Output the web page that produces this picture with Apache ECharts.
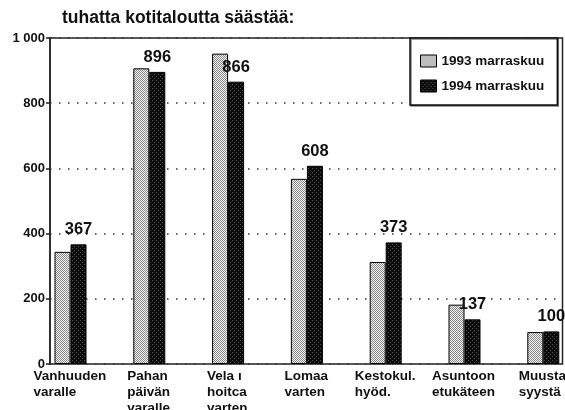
<!DOCTYPE html>
<html><head><meta charset="utf-8">
<script src="https://cdn.jsdelivr.net/npm/echarts@6/dist/echarts.min.js"></script>
<style>html,body{margin:0;padding:0;background:#fff}#c{width:565px;height:410px}</style>
</head><body><div id="c"></div>
<script>
const titleText = 'tuhatta kotitaloutta säästää:';
const categories = ['Vanhuuden\nvaralle', 'Pahan\npäivän\nvaralle', 'Vela\u00a0\u0131\nhoitca\nvarten', 'Lomaa\nvarten', 'Kestokul.\nhyöd.', 'Asuntoon\netukäteen', 'Muusta\nsyystä'];
const seriesNames = ['1993 marraskuu', '1994 marraskuu'];
const values1993 = [344, 907, 952, 568, 313, 182, 98];
const values1994 = [367, 896, 866, 608, 373, 137, 100];
const yTicks = [0, 200, 400, 600, 800, 1000];

function makePattern(bg, fg, test) {
  const c = document.createElement('canvas');
  c.width = 4; c.height = 4;
  const g = c.getContext('2d');
  g.fillStyle = bg; g.fillRect(0, 0, 4, 4);
  g.fillStyle = fg;
  for (let x = 0; x < 4; x++) for (let y = 0; y < 4; y++) if (test(x, y)) g.fillRect(x, y, 1, 1);
  return c;
}
const lightPat = makePattern('#f2f2f2', '#8a8a8a', (x, y) => (x + y) % 2 === 0);
const darkPat = makePattern('#0c0c0c', '#555555', (x, y) => x % 2 === 0 && y % 2 === 0 && (x + y) % 4 === 0);

const FONT = 'Liberation Sans';
const LABEL_SIZE = 13.5;
// left-aligned multi-line label blocks, centred on the category
const mctx = document.createElement('canvas').getContext('2d');
mctx.font = 'bold ' + LABEL_SIZE + 'px "' + FONT + '"';
const rich = {};
const labelIndex = {};
categories.forEach((c, i) => {
  const w = Math.max(...c.split('\n').map(l => mctx.measureText(l).width));
  rich['b' + i] = {width: Math.ceil(w) + 1, align: 'left', fontFamily: FONT, fontSize: LABEL_SIZE, fontWeight: 'bold', color: '#111', lineHeight: 16};
  labelIndex[c] = i;
});

const chart = echarts.init(document.getElementById('c'), null, {renderer: 'canvas'});
chart.setOption({
  animation: false,
  backgroundColor: '#fff',
  textStyle: {fontFamily: FONT, fontWeight: 'bold', color: '#111'},
  title: {
    text: titleText, left: 57, top: 4,
    textStyle: {fontFamily: FONT, fontSize: 17.5, fontWeight: 'bold', color: '#111'}
  },
  legend: {
    orient: 'vertical', left: 410, top: 38,
    data: seriesNames, icon: 'rect',
    backgroundColor: '#fff', borderColor: '#111', borderWidth: 1.5,
    shadowColor: 'rgba(0,0,0,0.5)', shadowOffsetX: 1, shadowOffsetY: 1, shadowBlur: 0,
    padding: [16, 13, 12, 10], itemGap: 11,
    itemWidth: 16, itemHeight: 12, itemStyle: {borderColor: '#000', borderWidth: 1},
    textStyle: {fontFamily: FONT, fontSize: 13.5, fontWeight: 'bold', color: '#111'},
    z: 10
  },
  grid: [
    {left: 50, right: 2.5, top: 38, bottom: 46, show: true, borderColor: '#222', borderWidth: 1.5, outerBoundsMode: 'none', containLabel: false},
    {left: 31.1, right: -17.7, top: 38, bottom: 46, outerBoundsMode: 'none', containLabel: false}
  ],
  xAxis: [
    {gridIndex: 0, type: 'value', min: 0, max: 1, show: false},
    {gridIndex: 1, type: 'category', data: categories,
     axisLine: {show: false}, axisTick: {show: false},
     axisLabel: {margin: 4, fontFamily: FONT, fontSize: LABEL_SIZE, fontWeight: 'bold', color: '#111', lineHeight: 16, interval: 0, hideOverlap: false,
       formatter: v => { const i = labelIndex[v]; return v.split('\n').map(l => '{b' + i + '|' + l + '}').join('\n'); },
       rich: rich}}
  ],
  yAxis: [
    {gridIndex: 0, type: 'value', min: yTicks[0], max: yTicks[yTicks.length - 1], interval: 200,
     axisLine: {show: true, lineStyle: {color: '#222', width: 1.5}},
     axisTick: {show: true, length: 4, lineStyle: {color: '#222', width: 1.5}},
     axisLabel: {margin: 5, fontFamily: FONT, fontSize: 13, fontWeight: 'bold', color: '#111',
       formatter: v => v >= 1000 ? String(v).replace(/(\d)(\d{3})$/, '$1 $2') : String(v)},
     splitLine: {show: true, lineStyle: {color: '#333', width: 1.5, type: [1.5, 7.5]}}},
    {gridIndex: 1, type: 'value', min: 0, max: 1000, show: false}
  ],
  series: [
    {name: seriesNames[0], type: 'bar', xAxisIndex: 1, yAxisIndex: 1, data: values1993,
     barWidth: 16, barGap: '0%',
     itemStyle: {color: {image: lightPat, repeat: 'repeat'}, borderColor: '#000', borderWidth: 1}},
    {name: seriesNames[1], type: 'bar', xAxisIndex: 1, yAxisIndex: 1, data: values1994,
     barWidth: 16, barGap: '0%',
     itemStyle: {color: {image: darkPat, repeat: 'repeat'}, borderColor: '#000', borderWidth: 1},
     label: {show: true, position: 'top', distance: 6, fontFamily: FONT, fontSize: 16.5, fontWeight: 'bold', color: '#111'}}
  ]
});
</script>
</body></html>
